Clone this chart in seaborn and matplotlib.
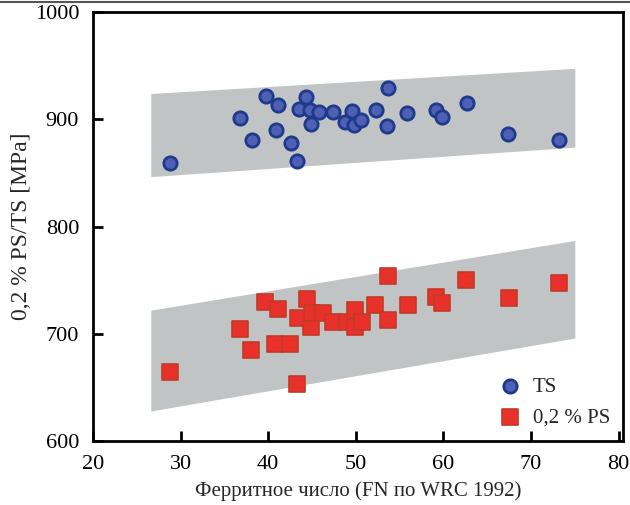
import matplotlib
matplotlib.use("Agg")
import matplotlib.pyplot as plt
import seaborn as sns
import pandas as pd
from matplotlib.lines import Line2D

# ---- data ----
ts_fn = [28.8, 36.8, 38.1, 39.7, 40.9, 41.1, 42.6, 43.3, 43.5, 44.3, 44.8, 44.9, 45.8, 47.4,
         48.8, 49.6, 49.8, 50.6, 52.3, 53.7, 53.6, 55.9, 59.1, 59.8, 62.7, 67.4, 73.2]
ts_mpa = [859.5, 901.4, 880.7, 922.0, 890.0, 913.3, 877.6, 861.1, 909.3, 921.0, 908.6, 895.6,
          906.5, 906.5, 897.2, 908.0, 894.6, 899.3, 908.6, 928.9, 893.7, 905.5, 908.6, 902.4,
          914.9, 886.2, 880.7]
ps_fn = [28.8, 36.8, 38.0, 39.6, 40.8, 41.1, 42.5, 43.3, 43.4, 44.4, 44.9, 45.0, 46.3, 47.4,
         49.0, 49.9, 49.9, 50.7, 52.2, 53.7, 53.7, 56.0, 59.1, 59.8, 62.6, 67.5, 73.2]
ps_mpa = [664.6, 704.1, 684.8, 729.3, 690.4, 722.8, 690.4, 653.1, 714.4, 732.1, 706.6, 719.1,
          719.1, 711.2, 711.2, 706.6, 722.1, 711.2, 726.8, 754.1, 712.8, 726.8, 734.5, 728.9,
          750.1, 733.0, 747.0]
band_fn = [26.6, 75.0]
ts_band_low = [846.5, 874.0]
ts_band_high = [924.0, 947.5]
ps_band_low = [628.0, 696.0]
ps_band_high = [722.0, 787.0]
x_ticks = [20, 30, 40, 50, 60, 70, 80]
y_ticks = [600, 700, 800, 900, 1000]
ts_label = "TS"
ps_label = "0,2 % PS"
x_title = "Ферритное число (FN по WRC 1992)"
y_title = "0,2 % PS/TS [MPa]"

sns.set_theme(style="white")
plt.rcParams['font.family'] = ['Liberation Serif', 'DejaVu Serif']
plt.rcParams['font.size'] = 15

fig = plt.figure(figsize=(6.3, 5.05), dpi=100)
ax = fig.add_axes([93/630, 64/505, (623-93)/630, (441-12)/505])

band_color = "#c1c4c4"
ax.fill_between(band_fn, ts_band_low, ts_band_high, color=band_color, lw=0, zorder=1)
ax.fill_between(band_fn, ps_band_low, ps_band_high, color=band_color, lw=0, zorder=1)

ts_df = pd.DataFrame({"FN": ts_fn, "MPa": ts_mpa})
ps_df = pd.DataFrame({"FN": ps_fn, "MPa": ps_mpa})

sns.scatterplot(data=ts_df, x="FN", y="MPa", ax=ax, marker="o", s=92,
                color="#4f5fb3", edgecolor="#1e3a8c", linewidth=2.0, zorder=3, label=ts_label)
sns.scatterplot(data=ps_df, x="FN", y="MPa", ax=ax, marker="s", s=122,
                color="#e8312a", edgecolor="#c23a26", linewidth=1.2, zorder=3, label=ps_label)

ax.set_xlim(20, 80.5)
ax.set_ylim(600, 1000)
ax.set_xticks(x_ticks)
ax.set_yticks(y_ticks)
ax.set_xlabel(x_title, fontsize=15, labelpad=5)
ax.set_ylabel(y_title, fontsize=17, labelpad=2)
ax.tick_params(direction="in", length=7, width=2.0, labelsize=16, colors="black",
               pad=10, top=False, right=False, left=True, bottom=True)
for sp in ax.spines.values():
    sp.set_linewidth(2.0)
    sp.set_color("black")

leg = ax.legend(loc="upper left", bbox_to_anchor=(0.743, 0.168), frameon=False, fontsize=15,
                handlelength=1.4, handletextpad=0.4, labelspacing=0.55, borderaxespad=0.0)

fig.add_artist(Line2D([0, 1], [0.997, 0.997], transform=fig.transFigure, color="#555555", lw=1.5))

fig.savefig("out.png", dpi=100)
